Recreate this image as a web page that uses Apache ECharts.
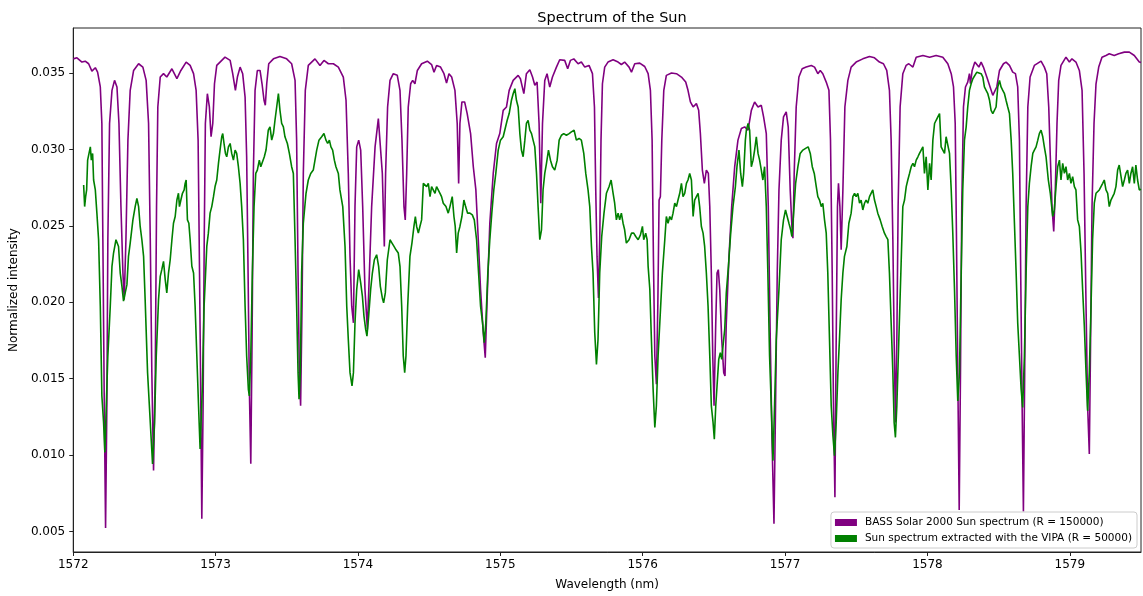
<!DOCTYPE html>
<html>
<head>
<meta charset="utf-8">
<script src="https://cdn.jsdelivr.net/npm/echarts@6/dist/echarts.min.js"></script>
<style>
html,body{margin:0;padding:0;background:#fff;}
#chart{width:1143px;height:596px;}
</style>
</head>
<body>
<div id="chart"></div>
<script>
const chartTitle = 'Spectrum of the Sun';
const xAxisTitle = 'Wavelength (nm)';
const yAxisTitle = 'Normalized intensity';
const seriesNames = ['BASS Solar 2000 Sun spectrum (R = 150000)', 'Sun spectrum extracted with the VIPA (R = 50000)'];
const xTickValues = [1572, 1573, 1574, 1575, 1576, 1577, 1578, 1579];
const yTickValues = [0.005, 0.010, 0.015, 0.020, 0.025, 0.030, 0.035];

const bassWavelength = [
1572.000,1572.026,1572.061,1572.084,1572.108,1572.131,1572.155,1572.171,1572.190,1572.201,
1572.208,1572.218,1572.227,1572.236,1572.243,1572.255,1572.272,1572.290,1572.307,1572.321,
1572.335,1572.349,1572.358,1572.370,1572.384,1572.400,1572.424,1572.459,1572.489,1572.512,
1572.529,1572.541,1572.552,1572.564,1572.576,1572.585,1572.594,1572.611,1572.634,1572.657,
1572.693,1572.728,1572.756,1572.793,1572.821,1572.845,1572.863,1572.877,1572.887,1572.896,
1572.903,1572.912,1572.920,1572.928,1572.942,1572.956,1572.968,1572.980,1572.992,1573.008,
1573.031,1573.066,1573.102,1573.120,1573.139,1573.153,1573.172,1573.190,1573.207,1573.218,
1573.228,1573.237,1573.247,1573.256,1573.265,1573.277,1573.293,1573.312,1573.326,1573.340,
1573.349,1573.359,1573.373,1573.406,1573.452,1573.499,1573.534,1573.558,1573.569,1573.579,
1573.588,1573.597,1573.607,1573.616,1573.630,1573.651,1573.698,1573.733,1573.761,1573.792,
1573.827,1573.862,1573.897,1573.916,1573.932,1573.944,1573.956,1573.968,1573.979,1573.991,
1574.005,1574.019,1574.033,1574.049,1574.066,1574.080,1574.096,1574.120,1574.143,1574.157,
1574.171,1574.185,1574.194,1574.208,1574.225,1574.248,1574.276,1574.295,1574.309,1574.323,
1574.332,1574.342,1574.353,1574.370,1574.384,1574.400,1574.417,1574.447,1574.487,1574.517,
1574.534,1574.552,1574.580,1574.604,1574.622,1574.639,1574.658,1574.681,1574.697,1574.707,
1574.716,1574.730,1574.749,1574.767,1574.791,1574.810,1574.828,1574.845,1574.861,1574.880,
1574.894,1574.907,1574.926,1574.950,1574.973,1574.996,1575.020,1575.043,1575.062,1575.090,
1575.125,1575.141,1575.165,1575.183,1575.207,1575.226,1575.242,1575.258,1575.272,1575.284,
1575.296,1575.312,1575.328,1575.347,1575.366,1575.394,1575.417,1575.452,1575.473,1575.492,
1575.516,1575.546,1575.569,1575.593,1575.623,1575.647,1575.661,1575.670,1575.679,1575.689,
1575.698,1575.707,1575.717,1575.733,1575.756,1575.792,1575.827,1575.850,1575.873,1575.904,
1575.921,1575.944,1575.979,1576.014,1576.038,1576.054,1576.066,1576.075,1576.085,1576.096,
1576.106,1576.115,1576.124,1576.134,1576.148,1576.166,1576.202,1576.237,1576.272,1576.302,
1576.318,1576.335,1576.354,1576.377,1576.393,1576.405,1576.419,1576.433,1576.447,1576.461,
1576.471,1576.482,1576.492,1576.501,1576.513,1576.522,1576.531,1576.541,1576.555,1576.569,
1576.578,1576.587,1576.606,1576.625,1576.646,1576.669,1576.693,1576.716,1576.740,1576.763,
1576.786,1576.810,1576.833,1576.849,1576.868,1576.882,1576.896,1576.908,1576.922,1576.933,
1576.945,1576.957,1576.973,1576.989,1577.008,1577.022,1577.036,1577.048,1577.055,1577.064,
1577.078,1577.097,1577.120,1577.148,1577.184,1577.207,1577.230,1577.247,1577.265,1577.289,
1577.308,1577.319,1577.331,1577.340,1577.350,1577.359,1577.368,1577.375,1577.385,1577.394,
1577.406,1577.420,1577.441,1577.464,1577.499,1577.546,1577.593,1577.628,1577.663,1577.691,
1577.714,1577.733,1577.745,1577.757,1577.766,1577.775,1577.785,1577.794,1577.808,1577.827,
1577.850,1577.869,1577.898,1577.921,1577.968,1578.015,1578.061,1578.108,1578.143,1578.167,
1578.183,1578.195,1578.204,1578.213,1578.223,1578.232,1578.241,1578.253,1578.267,1578.283,
1578.295,1578.302,1578.314,1578.333,1578.347,1578.361,1578.377,1578.393,1578.417,1578.440,
1578.459,1578.471,1578.487,1578.506,1578.534,1578.552,1578.576,1578.599,1578.618,1578.634,
1578.646,1578.655,1578.665,1578.674,1578.683,1578.693,1578.705,1578.721,1578.751,1578.798,
1578.821,1578.838,1578.852,1578.863,1578.875,1578.887,1578.898,1578.910,1578.922,1578.938,
1578.973,1578.997,1579.015,1579.043,1579.067,1579.086,1579.100,1579.114,1579.125,1579.137,
1579.146,1579.156,1579.170,1579.184,1579.203,1579.226,1579.254,1579.277,1579.312,1579.343,
1579.383,1579.418,1579.453,1579.488,1579.500
];
const bassIntensity = [
0.03593,0.03600,0.03572,0.03578,0.03561,0.03513,0.03535,0.03506,0.03409,0.03170,
0.02409,0.01322,0.00522,0.01322,0.02409,0.03170,0.03387,0.03452,0.03409,0.03170,
0.02626,0.02191,0.02017,0.02409,0.03061,0.03387,0.03517,0.03561,0.03539,0.03452,
0.03170,0.02409,0.01539,0.00898,0.01539,0.02626,0.03278,0.03474,0.03496,0.03474,
0.03528,0.03463,0.03517,0.03572,0.03550,0.03496,0.03387,0.03061,0.02191,0.01322,
0.00582,0.01322,0.02409,0.03170,0.03365,0.03278,0.03083,0.03170,0.03430,0.03550,
0.03572,0.03604,0.03583,0.03496,0.03387,0.03474,0.03539,0.03496,0.03343,0.02952,
0.02191,0.01430,0.00942,0.01756,0.02843,0.03387,0.03517,0.03517,0.03430,0.03322,
0.03289,0.03430,0.03561,0.03593,0.03609,0.03593,0.03561,0.03452,0.03061,0.02191,
0.01539,0.01322,0.01974,0.02843,0.03387,0.03550,0.03593,0.03550,0.03583,0.03561,
0.03561,0.03539,0.03474,0.03322,0.02843,0.02300,0.01974,0.01865,0.02626,0.03017,
0.03061,0.02996,0.02626,0.02083,0.01822,0.02191,0.02626,0.03017,0.03202,0.03191,
0.02843,0.02365,0.02843,0.03278,0.03452,0.03496,0.03485,0.03387,0.03061,0.02626,
0.02539,0.02843,0.03278,0.03430,0.03452,0.03430,0.03517,0.03561,0.03578,0.03556,
0.03506,0.03550,0.03539,0.03496,0.03435,0.03496,0.03474,0.03387,0.03170,0.02778,
0.03170,0.03311,0.03311,0.03235,0.03104,0.02887,0.02735,0.02409,0.02083,0.01800,
0.01637,0.02017,0.02517,0.02843,0.03039,0.03104,0.03256,0.03278,0.03387,0.03452,
0.03485,0.03463,0.03365,0.03496,0.03522,0.03474,0.03420,0.03441,0.03170,0.02648,
0.03170,0.03452,0.03496,0.03409,0.03474,0.03539,0.03587,0.03583,0.03528,0.03583,
0.03593,0.03561,0.03572,0.03539,0.03550,0.03496,0.03278,0.02735,0.02300,0.02028,
0.02409,0.03061,0.03430,0.03539,0.03572,0.03587,0.03572,0.03556,0.03572,0.03539,
0.03506,0.03561,0.03565,0.03543,0.03496,0.03387,0.03061,0.02300,0.01648,0.01463,
0.01974,0.02669,0.02691,0.03061,0.03387,0.03485,0.03500,0.03496,0.03474,0.03441,
0.03387,0.03311,0.03278,0.03300,0.03256,0.03104,0.02865,0.02778,0.02865,0.02843,
0.02626,0.02191,0.01648,0.01322,0.01865,0.02191,0.02213,0.02083,0.01756,0.01539,
0.01517,0.01865,0.02300,0.02626,0.02887,0.03061,0.03137,0.03148,0.03126,0.03256,
0.03311,0.03278,0.03289,0.03213,0.03104,0.02626,0.01756,0.01104,0.00550,0.01322,
0.02191,0.02735,0.03061,0.03213,0.03246,0.03148,0.02735,0.02496,0.02419,0.02843,
0.03278,0.03474,0.03528,0.03539,0.03550,0.03539,0.03496,0.03517,0.03496,0.03441,
0.03387,0.03061,0.02191,0.01322,0.00724,0.01756,0.02626,0.02778,0.02626,0.02343,
0.02735,0.03278,0.03452,0.03539,0.03572,0.03593,0.03609,0.03600,0.03572,0.03561,
0.03517,0.03387,0.03061,0.02409,0.01756,0.01213,0.01756,0.02626,0.03278,0.03496,
0.03550,0.03561,0.03539,0.03604,0.03615,0.03604,0.03615,0.03604,0.03561,0.03496,
0.03409,0.03170,0.02409,0.01539,0.00640,0.01539,0.02626,0.03278,0.03409,0.03441,
0.03496,0.03430,0.03517,0.03572,0.03561,0.03539,0.03572,0.03539,0.03474,0.03409,
0.03354,0.03343,0.03409,0.03517,0.03561,0.03572,0.03550,0.03506,0.03496,0.03409,
0.03061,0.02191,0.01322,0.00630,0.01539,0.02626,0.03278,0.03474,0.03550,0.03578,
0.03539,0.03496,0.03278,0.02952,0.02626,0.02463,0.02735,0.03170,0.03452,0.03550,
0.03604,0.03572,0.03593,0.03572,0.03517,0.03387,0.02843,0.01974,0.01322,0.01007,
0.01756,0.02626,0.03170,0.03430,0.03539,0.03604,0.03615,0.03626,0.03615,0.03626,
0.03637,0.03637,0.03615,0.03572,0.03570
];

const vipaWavelength = [
1572.073,1572.080,1572.087,1572.094,1572.101,1572.110,1572.120,1572.127,1572.136,1572.143,
1572.155,1572.166,1572.178,1572.190,1572.201,1572.213,1572.222,1572.232,1572.243,1572.260,
1572.272,1572.283,1572.300,1572.318,1572.330,1572.342,1572.353,1572.365,1572.377,1572.388,
1572.400,1572.419,1572.435,1572.447,1572.459,1572.470,1572.482,1572.494,1572.505,1572.522,
1572.541,1572.557,1572.571,1572.583,1572.599,1572.611,1572.622,1572.634,1572.646,1572.657,
1572.669,1572.681,1572.693,1572.704,1572.716,1572.728,1572.739,1572.746,1572.756,1572.767,
1572.779,1572.786,1572.793,1572.802,1572.812,1572.821,1572.833,1572.845,1572.856,1572.868,
1572.880,1572.891,1572.898,1572.907,1572.919,1572.938,1572.949,1572.961,1572.973,1572.985,
1572.996,1573.008,1573.020,1573.031,1573.043,1573.050,1573.059,1573.069,1573.078,1573.090,
1573.102,1573.113,1573.125,1573.137,1573.148,1573.160,1573.172,1573.183,1573.195,1573.207,
1573.218,1573.230,1573.237,1573.247,1573.258,1573.270,1573.282,1573.293,1573.307,1573.317,
1573.331,1573.342,1573.354,1573.370,1573.382,1573.394,1573.406,1573.417,1573.429,1573.441,
1573.452,1573.464,1573.476,1573.487,1573.504,1573.518,1573.534,1573.546,1573.558,1573.569,
1573.579,1573.586,1573.595,1573.604,1573.616,1573.635,1573.651,1573.668,1573.686,1573.698,
1573.710,1573.726,1573.745,1573.761,1573.775,1573.787,1573.799,1573.810,1573.822,1573.834,
1573.845,1573.862,1573.873,1573.893,1573.909,1573.921,1573.932,1573.944,1573.958,1573.968,
1573.979,1573.991,1574.005,1574.019,1574.031,1574.042,1574.054,1574.063,1574.075,1574.089,
1574.101,1574.115,1574.131,1574.145,1574.157,1574.171,1574.180,1574.192,1574.206,1574.225,
1574.239,1574.253,1574.267,1574.283,1574.295,1574.307,1574.318,1574.328,1574.337,1574.349,
1574.365,1574.379,1574.393,1574.403,1574.412,1574.424,1574.435,1574.447,1574.459,1574.470,
1574.482,1574.494,1574.506,1574.517,1574.529,1574.541,1574.552,1574.564,1574.576,1574.587,
1574.599,1574.618,1574.634,1574.646,1574.662,1574.674,1574.683,1574.693,1574.704,1574.716,
1574.730,1574.744,1574.756,1574.770,1574.786,1574.803,1574.817,1574.833,1574.847,1574.861,
1574.875,1574.887,1574.898,1574.912,1574.926,1574.940,1574.954,1574.968,1574.985,1575.001,
1575.020,1575.031,1575.048,1575.062,1575.078,1575.090,1575.102,1575.113,1575.125,1575.137,
1575.148,1575.160,1575.172,1575.183,1575.195,1575.207,1575.219,1575.230,1575.242,1575.254,
1575.265,1575.277,1575.289,1575.300,1575.312,1575.324,1575.338,1575.352,1575.366,1575.382,
1575.399,1575.413,1575.429,1575.445,1575.464,1575.483,1575.499,1575.518,1575.534,1575.553,
1575.569,1575.586,1575.600,1575.616,1575.628,1575.640,1575.651,1575.663,1575.675,1575.686,
1575.698,1575.712,1575.728,1575.745,1575.764,1575.778,1575.792,1575.803,1575.815,1575.827,
1575.838,1575.850,1575.862,1575.873,1575.885,1575.904,1575.921,1575.937,1575.951,1575.968,
1575.984,1575.998,1576.007,1576.021,1576.031,1576.038,1576.050,1576.061,1576.073,1576.085,
1576.096,1576.108,1576.120,1576.138,1576.155,1576.166,1576.178,1576.190,1576.202,1576.213,
1576.225,1576.237,1576.248,1576.260,1576.272,1576.283,1576.295,1576.307,1576.318,1576.330,
1576.342,1576.354,1576.365,1576.377,1576.389,1576.400,1576.412,1576.424,1576.435,1576.447,
1576.459,1576.471,1576.482,1576.494,1576.503,1576.513,1576.522,1576.534,1576.545,1576.555,
1576.564,1576.576,1576.587,1576.602,1576.618,1576.634,1576.651,1576.662,1576.676,1576.688,
1576.700,1576.709,1576.721,1576.728,1576.740,1576.751,1576.763,1576.775,1576.786,1576.798,
1576.810,1576.821,1576.833,1576.844,1576.856,1576.868,1576.879,1576.891,1576.903,1576.915,
1576.926,1576.938,1576.957,1576.973,1576.989,1577.003,1577.015,1577.027,1577.039,1577.048,
1577.060,1577.074,1577.090,1577.106,1577.125,1577.144,1577.162,1577.177,1577.191,1577.205,
1577.219,1577.230,1577.242,1577.254,1577.265,1577.277,1577.289,1577.300,1577.312,1577.324,
1577.336,1577.347,1577.359,1577.371,1577.382,1577.394,1577.406,1577.417,1577.434,1577.448,
1577.464,1577.476,1577.488,1577.499,1577.511,1577.523,1577.534,1577.546,1577.558,1577.569,
1577.581,1577.593,1577.605,1577.616,1577.628,1577.640,1577.651,1577.668,1577.682,1577.698,
1577.710,1577.722,1577.733,1577.745,1577.757,1577.766,1577.775,1577.785,1577.799,1577.815,
1577.827,1577.839,1577.851,1577.862,1577.874,1577.886,1577.898,1577.909,1577.921,1577.933,
1577.944,1577.956,1577.968,1577.979,1577.991,1578.003,1578.015,1578.026,1578.038,1578.050,
1578.061,1578.073,1578.085,1578.096,1578.108,1578.120,1578.131,1578.143,1578.155,1578.167,
1578.178,1578.190,1578.202,1578.213,1578.225,1578.237,1578.248,1578.260,1578.272,1578.283,
1578.295,1578.307,1578.319,1578.330,1578.347,1578.361,1578.377,1578.389,1578.400,1578.412,
1578.424,1578.436,1578.447,1578.459,1578.471,1578.482,1578.494,1578.506,1578.517,1578.529,
1578.541,1578.552,1578.564,1578.576,1578.588,1578.599,1578.611,1578.623,1578.634,1578.646,
1578.658,1578.669,1578.681,1578.693,1578.705,1578.716,1578.728,1578.740,1578.751,1578.763,
1578.775,1578.786,1578.798,1578.810,1578.821,1578.833,1578.849,1578.863,1578.880,1578.891,
1578.903,1578.915,1578.927,1578.938,1578.950,1578.962,1578.973,1578.985,1578.997,1579.008,
1579.020,1579.032,1579.043,1579.055,1579.067,1579.079,1579.090,1579.102,1579.114,1579.125,
1579.137,1579.149,1579.160,1579.172,1579.184,1579.196,1579.207,1579.219,1579.231,1579.242,
1579.254,1579.266,1579.277,1579.289,1579.301,1579.312,1579.324,1579.336,1579.347,1579.359,
1579.371,1579.383,1579.394,1579.406,1579.418,1579.429,1579.441,1579.453,1579.464,1579.476,
1579.488,1579.500
];
const vipaIntensity = [
0.02767,0.02626,0.02691,0.02735,0.02930,0.02930,0.03017,0.02930,0.02974,0.02800,
0.02735,0.02583,0.02409,0.01974,0.01387,0.01213,0.01017,0.01322,0.01648,0.01974,
0.02235,0.02322,0.02409,0.02365,0.02191,0.02104,0.02007,0.02061,0.02115,0.02300,
0.02387,0.02539,0.02626,0.02680,0.02626,0.02496,0.02409,0.02300,0.02017,0.01539,
0.01213,0.00942,0.01213,0.01648,0.02017,0.02169,0.02213,0.02267,0.02148,0.02061,
0.02191,0.02278,0.02409,0.02517,0.02561,0.02669,0.02713,0.02626,0.02669,0.02713,
0.02735,0.02778,0.02800,0.02539,0.02517,0.02409,0.02235,0.02191,0.01974,0.01648,
0.01322,0.01039,0.01050,0.01450,0.01974,0.02365,0.02452,0.02583,0.02626,0.02691,
0.02757,0.02800,0.02909,0.02996,0.03083,0.03104,0.03039,0.02974,0.02952,0.03017,
0.03039,0.02974,0.02930,0.02996,0.02974,0.02887,0.02778,0.02626,0.02409,0.01974,
0.01648,0.01430,0.01387,0.01648,0.02191,0.02626,0.02843,0.02865,0.02930,0.02887,
0.02887,0.02952,0.02996,0.03126,0.03148,0.03061,0.03104,0.03191,0.03278,0.03365,
0.03256,0.03170,0.03148,0.03083,0.03039,0.02974,0.02887,0.02843,0.02409,0.01974,
0.01539,0.01365,0.01539,0.02191,0.02517,0.02713,0.02800,0.02843,0.02865,0.02930,
0.02996,0.03061,0.03083,0.03104,0.03061,0.03039,0.03061,0.03017,0.02996,0.02930,
0.02887,0.02843,0.02735,0.02626,0.02365,0.01974,0.01756,0.01539,0.01452,0.01539,
0.01865,0.02083,0.02213,0.02126,0.02039,0.01909,0.01822,0.01778,0.01909,0.02083,
0.02191,0.02278,0.02311,0.02235,0.02104,0.02028,0.01996,0.02061,0.02278,0.02409,
0.02387,0.02365,0.02343,0.02322,0.02235,0.01974,0.01648,0.01539,0.01648,0.01974,
0.02300,0.02387,0.02496,0.02561,0.02496,0.02452,0.02496,0.02539,0.02778,0.02789,
0.02757,0.02778,0.02691,0.02757,0.02746,0.02713,0.02757,0.02757,0.02713,0.02691,
0.02648,0.02626,0.02583,0.02626,0.02691,0.02561,0.02496,0.02322,0.02452,0.02496,
0.02561,0.02669,0.02626,0.02583,0.02583,0.02572,0.02539,0.02409,0.02191,0.01974,
0.01865,0.01735,0.01865,0.02191,0.02409,0.02583,0.02735,0.02843,0.02996,0.03061,
0.03083,0.03126,0.03191,0.03235,0.03322,0.03365,0.03398,0.03322,0.03278,0.03104,
0.02996,0.02952,0.03061,0.03170,0.03191,0.03126,0.03104,0.03061,0.03017,0.02843,
0.02626,0.02409,0.02474,0.02735,0.02843,0.02909,0.02996,0.02930,0.02887,0.02865,
0.02930,0.03061,0.03093,0.03104,0.03093,0.03104,0.03115,0.03126,0.03061,0.03072,
0.03061,0.02974,0.02843,0.02735,0.02626,0.02365,0.02191,0.01800,0.01593,0.01756,
0.02191,0.02430,0.02583,0.02713,0.02757,0.02800,0.02713,0.02648,0.02539,0.02583,
0.02539,0.02583,0.02517,0.02474,0.02387,0.02409,0.02452,0.02452,0.02430,0.02409,
0.02441,0.02496,0.02409,0.02452,0.02409,0.02235,0.02083,0.01756,0.01430,0.01180,
0.01322,0.01648,0.01865,0.02191,0.02409,0.02561,0.02517,0.02561,0.02539,0.02583,
0.02648,0.02626,0.02669,0.02713,0.02778,0.02691,0.02713,0.02778,0.02800,0.02843,
0.02800,0.02561,0.02669,0.02691,0.02713,0.02626,0.02496,0.02452,0.02365,0.02191,
0.01974,0.01648,0.01322,0.01213,0.01104,0.01322,0.01452,0.01626,0.01669,0.01626,
0.01713,0.01822,0.02061,0.02235,0.02452,0.02626,0.02757,0.02887,0.02996,0.02843,
0.02757,0.02843,0.03061,0.03126,0.03170,0.03126,0.02887,0.02930,0.02996,0.03083,
0.02974,0.02930,0.02865,0.02800,0.02887,0.02626,0.02191,0.01648,0.01322,0.00963,
0.01322,0.01756,0.02083,0.02409,0.02539,0.02604,0.02593,0.02517,0.02474,0.02430,
0.02583,0.02778,0.02887,0.02974,0.02996,0.03007,0.03017,0.02974,0.02887,0.02843,
0.02757,0.02691,0.02669,0.02626,0.02648,0.02539,0.02452,0.02191,0.01756,0.01322,
0.01126,0.00996,0.01213,0.01539,0.01756,0.02017,0.02191,0.02300,0.02365,0.02517,
0.02583,0.02691,0.02713,0.02691,0.02713,0.02648,0.02669,0.02604,0.02648,0.02669,
0.02648,0.02691,0.02691,0.02735,0.02669,0.02626,0.02583,0.02539,0.02496,0.02452,
0.02430,0.02409,0.02191,0.01865,0.01539,0.01213,0.01115,0.01322,0.01756,0.02250,
0.02626,0.02669,0.02757,0.02800,0.02843,0.02887,0.02909,0.02887,0.02930,0.02952,
0.02974,0.02996,0.03017,0.02843,0.02952,0.02735,0.02909,0.02800,0.03061,0.03170,
0.03191,0.03213,0.03235,0.03017,0.03017,0.02974,0.03083,0.03083,0.02974,0.02735,
0.02452,0.02083,0.01648,0.01354,0.01539,0.02191,0.02735,0.03061,0.03148,0.03278,
0.03387,0.03430,0.03463,0.03474,0.03506,0.03517,0.03496,0.03474,0.03409,0.03387,
0.03365,0.03322,0.03256,0.03235,0.03235,0.03278,0.03409,0.03452,0.03409,0.03387,
0.03365,0.03322,0.03278,0.03235,0.03061,0.02843,0.02517,0.02191,0.01865,0.01648,
0.01430,0.01311,0.01648,0.02191,0.02626,0.02778,0.02887,0.02974,0.02996,0.03017,
0.03061,0.03104,0.03126,0.03083,0.03017,0.02952,0.02800,0.02713,0.02561,0.02604,
0.02757,0.02887,0.02930,0.02800,0.02909,0.02843,0.02887,0.02800,0.02843,0.02778,
0.02822,0.02757,0.02735,0.02539,0.02496,0.02322,0.02083,0.01843,0.01539,0.01289,
0.01539,0.01974,0.02409,0.02648,0.02713,0.02724,0.02735,0.02757,0.02778,0.02800,
0.02735,0.02713,0.02626,0.02669,0.02691,0.02713,0.02757,0.02865,0.02898,0.02887,
0.02757,0.02800,0.02843,0.02865,0.02778,0.02843,0.02887,0.02778,0.02898,0.02800,
0.02735,0.02740
];

function pairs(xs, ys) {
  const n = Math.min(xs.length, ys.length);
  const out = [];
  for (let i = 0; i < n; i++) out.push([xs[i], ys[i]]);
  return out;
}

const chart = echarts.init(document.getElementById('chart'), null, {renderer: 'canvas'});
const FONT = 'DejaVu Sans';
chart.setOption({
  animation: false,
  backgroundColor: '#ffffff',
  textStyle: {fontFamily: FONT},
  title: {
    text: chartTitle,
    left: 607,
    textAlign: 'center',
    top: 6,
    textStyle: {fontFamily: FONT, fontSize: 14.5, fontWeight: 'normal', color: '#000'}
  },
  grid: {
    left: 73, right: 2, top: 28, bottom: 44,
    show: true, borderColor: '#222', borderWidth: 1, backgroundColor: 'transparent'
  },
  legend: {
    orient: 'vertical',
    right: 6,
    bottom: 48,
    itemWidth: 22,
    itemHeight: 7,
    itemGap: 5,
    icon: 'rect',
    padding: [5, 5, 4, 4],
    backgroundColor: 'rgba(255,255,255,0.8)',
    borderColor: '#cccccc',
    borderWidth: 1,
    borderRadius: 3,
    textStyle: {fontFamily: FONT, fontSize: 10.5, color: '#000', padding: [0, 0, 0, 3]},
    data: seriesNames
  },
  xAxis: {
    type: 'value',
    min: 1572,
    max: 1579.5,
    name: xAxisTitle,
    nameLocation: 'middle',
    nameGap: 27,
    nameTextStyle: {fontFamily: FONT, fontSize: 12, color: '#000'},
    axisLine: {show: true, lineStyle: {color: '#222', width: 1}},
    axisTick: {show: true, inside: false, length: 4, lineStyle: {color: '#222'}, customValues: xTickValues},
    axisLabel: {fontFamily: FONT, fontSize: 12, color: '#000', margin: 7, customValues: xTickValues,
      formatter: function (v) { return String(Math.round(v)); }},
    splitLine: {show: false}
  },
  yAxis: {
    type: 'value',
    min: 0.00365,
    max: 0.03795,
    name: yAxisTitle,
    nameLocation: 'middle',
    nameRotate: 90,
    nameGap: 48,
    nameTextStyle: {fontFamily: FONT, fontSize: 12, color: '#000'},
    axisLine: {show: true, lineStyle: {color: '#222', width: 1}},
    axisTick: {show: true, inside: false, length: 4, lineStyle: {color: '#222'}, customValues: yTickValues},
    axisLabel: {fontFamily: FONT, fontSize: 12, color: '#000', margin: 8, customValues: yTickValues,
      formatter: function (v) { return v.toFixed(3); }},
    splitLine: {show: false}
  },
  series: [
    {
      name: seriesNames[0],
      type: 'line',
      data: pairs(bassWavelength, bassIntensity),
      showSymbol: false,
      symbol: 'none',
      clip: true,
      color: '#800080',
      lineStyle: {color: '#800080', width: 1.6},
      z: 2
    },
    {
      name: seriesNames[1],
      type: 'line',
      data: pairs(vipaWavelength, vipaIntensity),
      showSymbol: false,
      symbol: 'none',
      clip: true,
      color: '#008000',
      lineStyle: {color: '#008000', width: 1.6},
      z: 3
    }
  ]
});
</script>
</body>
</html>
